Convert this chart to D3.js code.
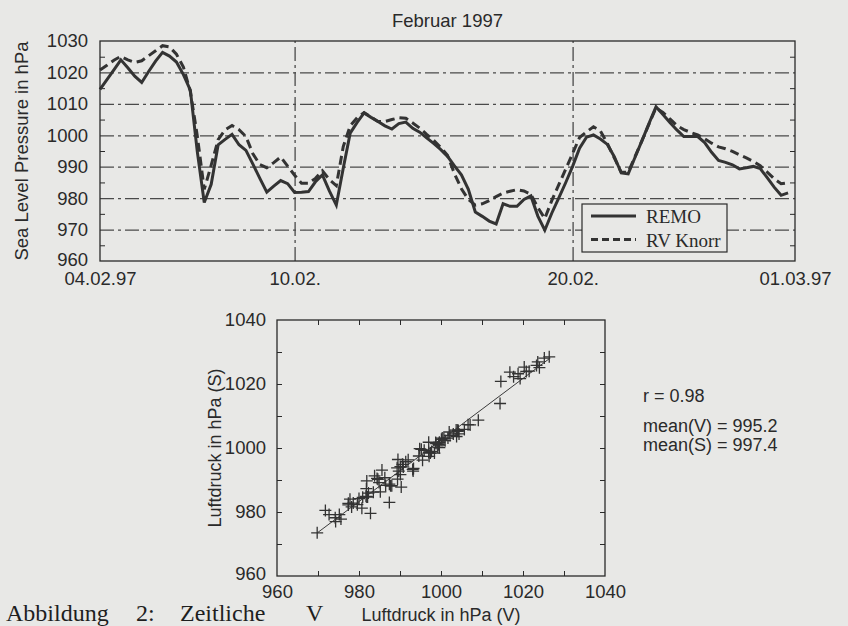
<!DOCTYPE html>
<html><head><meta charset="utf-8">
<script src="https://cdn.jsdelivr.net/npm/d3@7"></script>
<style>
html,body{margin:0;padding:0;background:#e8e8e6;}
svg{display:block;}
</style></head><body>
<svg id="c" width="848" height="626"></svg>
<script>
// ---------- data ----------
const title = "Februar 1997";
const stepDays = 0.25; // 6-hourly values
const dateTickDays = [0, 7, 17, 25];
const dateTickLabels = ["04.02.97", "10.02.", "20.02.", "01.03.97"];
const slpTicks = [960, 970, 980, 990, 1000, 1010, 1020, 1030];
const slpMinorTicks = [965, 975, 985, 995, 1005, 1015, 1025];
const gridDays = [7, 17];
const scatterLabelTicks = [960, 980, 1000, 1020, 1040];
const scatterMinorTicks = [970, 980, 990, 1000, 1010, 1020, 1030];
const seriesNames = ["REMO", "RV Knorr"];
const statLabels = ["r = 0.98", "mean(V) = 995.2", "mean(S) = 997.4"];
const captionWords = ["Abbildung", "2:", "Zeitliche", "V"];

const remo = [
 1014.6,1017.7,1020.8,1024.0,1021.5,1018.8,1016.8,1020.3,1023.6,1026.4,
 1025.2,1023.3,1019.3,1014.4,994.8,978.6,984.4,997.0,998.7,1000.3,
 997.0,995.2,990.8,986.3,981.9,983.8,985.6,984.6,981.8,981.9,
 982.1,985.2,987.4,982.3,977.8,989.5,1000.7,1004.1,1007.1,1005.7,
 1004.4,1003.0,1002.0,1003.7,1004.2,1002.2,1001.0,999.2,997.4,995.5,
 993.3,990.3,987.4,982.8,975.6,974.2,972.7,971.8,978.2,977.4,
 977.4,979.6,980.7,974.3,969.8,975.2,980.0,984.9,990.1,995.9,
 999.4,1000.1,998.8,997.1,993.2,988.0,987.7,993.1,998.4,1003.8,
 1009.1,1006.6,1004.1,1001.7,999.6,999.6,999.6,997.7,994.6,992.0,
 991.4,990.6,989.3,989.7,990.1,989.4,986.5,983.5,980.9,981.7
];
const knorr = [
 1020.8,1022.3,1023.9,1025.1,1024.0,1023.2,1023.7,1025.3,1026.9,1028.5,
 1028.1,1025.8,1021.7,1013.9,999.8,982.8,990.5,998.6,1001.7,1003.1,
 1001.8,999.6,994.1,990.7,989.7,991.3,993.1,990.2,987.3,984.7,
 984.7,986.3,988.7,985.9,984.0,996.4,1003.0,1005.6,1007.2,1005.8,
 1004.4,1004.4,1005.0,1005.6,1005.4,1003.9,1002.3,1000.3,998.4,996.2,
 993.6,987.8,983.0,979.6,977.8,978.2,979.2,980.5,981.6,982.2,
 982.7,982.3,981.2,977.0,973.5,979.2,984.2,989.2,994.2,999.3,
 1001.1,1002.7,1001.4,997.4,992.8,988.2,988.2,993.3,998.4,1003.6,
 1008.7,1007.3,1005.2,1003.1,1001.8,1000.9,1000.1,998.9,997.5,996.3,
 995.7,994.9,993.8,992.8,991.7,990.3,988.3,986.2,984.6,984.9
];

// ---------- drawing ----------
const SANS = "'Liberation Sans', Arial, Helvetica, sans-serif";
const SERIF = "'Liberation Serif', 'Times New Roman', serif";
const INK = "#2a2a2a";
const BG = "#e8e8e6";
const fmt = d3.format("d");
const svg = d3.select("#c");
svg.append("rect").attr("width", 848).attr("height", 626).attr("fill", BG);

function styleAxis(g, size) {
  g.attr("font-family", SANS).attr("font-size", size);
  g.selectAll("text").attr("fill", INK);
  g.selectAll("line").attr("stroke", INK);
  g.select(".domain").remove();
}

// ===== top time series =====
const T = {l: 100, r: 795, t: 41, b: 261};
const x = d3.scaleLinear().domain([0, 25]).range([T.l, T.r]);
const y = d3.scaleLinear().domain([960, 1030]).range([T.b, T.t]);

svg.append("text").attr("x", (T.l + T.r) / 2).attr("y", 27)
  .attr("text-anchor", "middle").attr("font-family", SANS).attr("font-size", 18.5)
  .attr("fill", INK).text(title);

// grid (dash-dot)
const gridH = svg.append("g").attr("transform", `translate(${T.l},0)`)
  .call(d3.axisLeft(y).tickValues(slpTicks.filter(v => v > 960 && v < 1030)).tickSize(-(T.r - T.l)).tickFormat(""));
styleAxis(gridH, 10);
gridH.selectAll("line").attr("stroke", "#4a4a4a").attr("stroke-width", 1.3).attr("stroke-dasharray", "14,4,3,4");
const gridV = svg.append("g").attr("transform", `translate(0,${T.b})`)
  .call(d3.axisBottom(x).tickValues(gridDays).tickSize(-(T.b - T.t)).tickFormat(""));
styleAxis(gridV, 10);
gridV.selectAll("line").attr("stroke", "#4a4a4a").attr("stroke-width", 1.3).attr("stroke-dasharray", "14,4,3,4");

// minor ticks
const mL = svg.append("g").attr("transform", `translate(${T.l},0)`)
  .call(d3.axisLeft(y).tickValues(slpMinorTicks).tickSize(-5).tickFormat(""));
styleAxis(mL, 10);
const mR = svg.append("g").attr("transform", `translate(${T.r},0)`)
  .call(d3.axisRight(y).tickValues(slpMinorTicks).tickSize(-5).tickFormat(""));
styleAxis(mR, 10);

// tick labels
const yAx = svg.append("g").attr("transform", `translate(${T.l},0)`)
  .call(d3.axisLeft(y).tickValues(slpTicks).tickSize(0).tickPadding(12).tickFormat(fmt));
styleAxis(yAx, 18.5);
yAx.selectAll(".tick text").filter(d => d === 960).attr("dy", "0.22em");
const xAx = svg.append("g").attr("transform", `translate(0,${T.b})`)
  .call(d3.axisBottom(x).tickValues(dateTickDays).tickSize(0).tickPadding(11)
    .tickFormat((d, i) => dateTickLabels[i]));
styleAxis(xAx, 18.5);

svg.append("text").attr("transform", `translate(28,${(T.t + T.b) / 2}) rotate(-90)`)
  .attr("text-anchor", "middle").attr("font-family", SANS).attr("font-size", 18.5)
  .attr("fill", INK).text("Sea Level Pressure in hPa");

// lines
const line = d3.line().x((d, i) => x(i * stepDays)).y(d => y(d));
svg.append("path").datum(knorr).attr("d", line).attr("fill", "none")
  .attr("stroke", "#333").attr("stroke-width", 3).attr("stroke-dasharray", "9,5");
svg.append("path").datum(remo).attr("d", line).attr("fill", "none")
  .attr("stroke", "#333").attr("stroke-width", 3).attr("stroke-linejoin", "miter");

// frame
svg.append("rect").attr("x", T.l).attr("y", T.t).attr("width", T.r - T.l).attr("height", T.b - T.t)
  .attr("fill", "none").attr("stroke", INK).attr("stroke-width", 1.3);

// legend
const lg = svg.append("g").attr("transform", "translate(582,204)");
lg.append("rect").attr("width", 145).attr("height", 48).attr("fill", BG)
  .attr("stroke", INK).attr("stroke-width", 1.2);
seriesNames.forEach((name, i) => {
  const yy = 12 + i * 23.5;
  lg.append("line").attr("x1", 9).attr("x2", 54).attr("y1", yy).attr("y2", yy)
    .attr("stroke", "#333").attr("stroke-width", 3)
    .attr("stroke-dasharray", i === 0 ? null : "7,4");
  lg.append("text").attr("x", 64).attr("y", yy + 7).attr("font-family", SERIF)
    .attr("font-size", 19).attr("fill", INK).text(name);
});

// ===== scatter =====
const S = {l: 277, r: 605, t: 320, b: 576};
const sx = d3.scaleLinear().domain([960, 1040]).range([S.l, S.r]);
const sy = d3.scaleLinear().domain([960, 1040]).range([S.b, S.t]);

[["axisBottom", S.b], ["axisTop", S.t]].forEach(([f, pos]) => {
  const g = svg.append("g").attr("transform", `translate(0,${pos})`)
    .call(d3[f](sx).tickValues(scatterMinorTicks).tickSize(-5).tickFormat(""));
  styleAxis(g, 10);
});
[["axisLeft", S.l], ["axisRight", S.r]].forEach(([f, pos]) => {
  const g = svg.append("g").attr("transform", `translate(${pos},0)`)
    .call(d3[f](sy).tickValues(scatterMinorTicks).tickSize(-5).tickFormat(""));
  styleAxis(g, 10);
});
const sxAx = svg.append("g").attr("transform", `translate(0,${S.b})`)
  .call(d3.axisBottom(sx).tickValues(scatterLabelTicks).tickSize(0).tickPadding(9).tickFormat(fmt));
styleAxis(sxAx, 18.5);
const syAx = svg.append("g").attr("transform", `translate(${S.l},0)`)
  .call(d3.axisLeft(sy).tickValues(scatterLabelTicks).tickSize(0).tickPadding(11).tickFormat(fmt));
styleAxis(syAx, 18.5);
syAx.selectAll(".tick text").filter(d => d === 960).attr("dy", "0.2em");

// regression line (least squares)
const mx = d3.mean(remo), my = d3.mean(knorr);
const slope = d3.sum(remo.map((v, i) => (v - mx) * (knorr[i] - my))) / d3.sum(remo.map(v => (v - mx) ** 2));
const icpt = my - slope * mx;
const ext = d3.extent(remo);
svg.append("line").attr("x1", sx(ext[0])).attr("y1", sy(icpt + slope * ext[0]))
  .attr("x2", sx(ext[1])).attr("y2", sy(icpt + slope * ext[1]))
  .attr("stroke", "#3a3a3a").attr("stroke-width", 1);

// crosses
svg.append("g").selectAll("path").data(remo).join("path")
  .attr("transform", (d, i) => `translate(${sx(d)},${sy(knorr[i])})`)
  .attr("d", "M-6,0H6M0,-6V6").attr("stroke", "#333").attr("stroke-width", 1.3).attr("fill", "none");

svg.append("rect").attr("x", S.l).attr("y", S.t).attr("width", S.r - S.l).attr("height", S.b - S.t)
  .attr("fill", "none").attr("stroke", INK).attr("stroke-width", 1.3);

svg.append("text").attr("transform", `translate(221,${(S.t + S.b) / 2}) rotate(-90)`)
  .attr("text-anchor", "middle").attr("font-family", SANS).attr("font-size", 18)
  .attr("fill", INK).text("Luftdruck in hPa (S)");

// caption (partially visible)
const capX = [6, 136, 180, 306];
captionWords.forEach((w, i) => {
  svg.append("text").attr("x", capX[i]).attr("y", 621).attr("font-family", SERIF)
    .attr("font-size", 24).attr("fill", "#1e1e1e").text(w);
});

svg.append("text").attr("x", (S.l + S.r) / 2).attr("y", 621)
  .attr("text-anchor", "middle").attr("font-family", SANS).attr("font-size", 18)
  .attr("fill", INK).text("Luftdruck in hPa (V)");

// statistics
const statY = [402, 432, 451];
statLabels.forEach((t, i) => {
  svg.append("text").attr("x", 643).attr("y", statY[i]).attr("font-family", SANS)
    .attr("font-size", 18).attr("fill", INK).text(t);
});
</script>
</body></html>
